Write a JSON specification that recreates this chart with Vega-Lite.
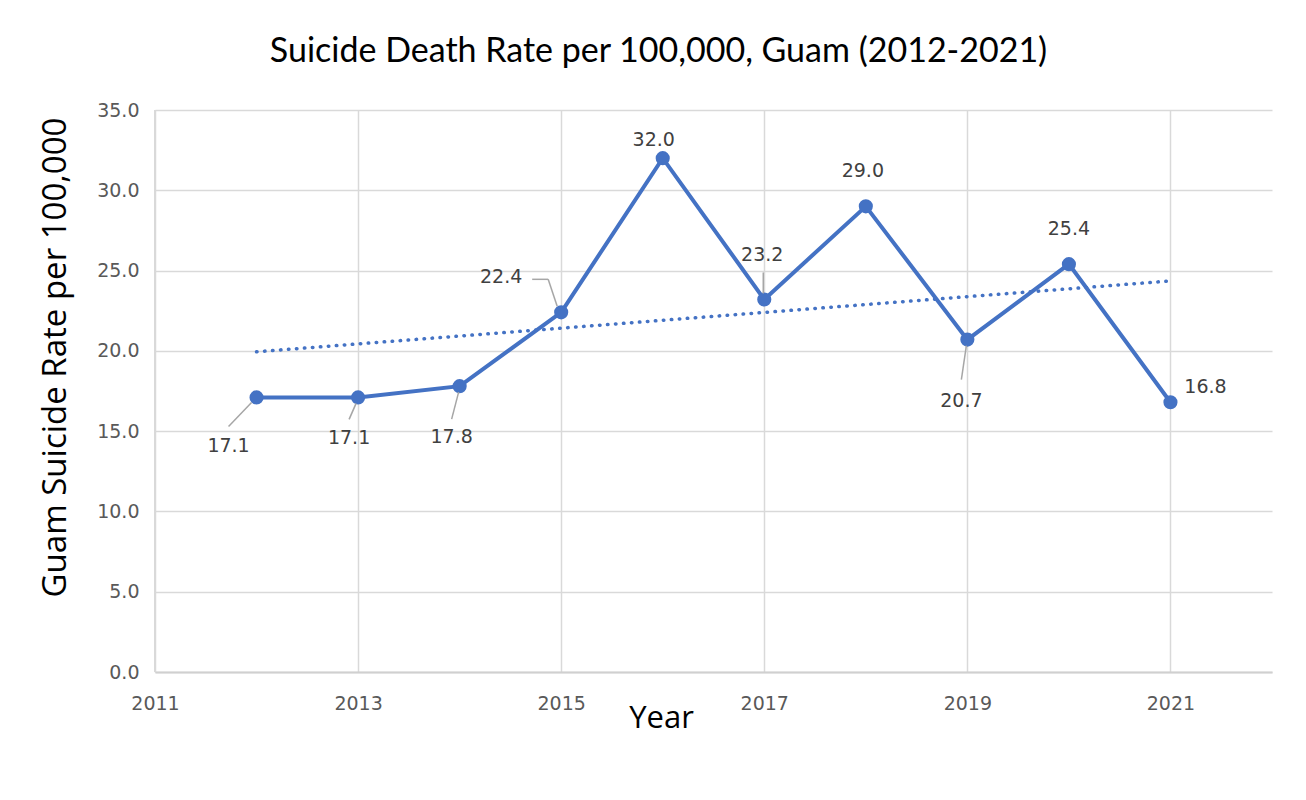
{
  "$schema": "https://vega.github.io/schema/vega-lite/v6.json",
  "autosize": {"type": "none"},
  "width": 1117,
  "height": 562,
  "padding": {"left": 155, "top": 110, "right": 34, "bottom": 128},
  "background": "white",
  "config": {
    "view": {"stroke": null},
    "font": "DejaVu Sans",
    "axis": {"labelFont": "DejaVu Sans", "titleFont": "Open Sans", "labelColor": "#595959", "labelFontSize": 19, "gridColor": "#d9d9d9", "gridWidth": 1.5, "ticks": false, "titleFontWeight": "normal", "titleColor": "#000000", "labelFlush": false}
  },
  "title": {"text": "Suicide Death Rate per 100,000, Guam (2012-2021)", "font": "Lato", "fontSize": 34, "fontWeight": "normal", "color": "#000000", "anchor": "middle", "dx": -55, "baseline": "alphabetic", "offset": 5},
  "data": {"values": [
    {"year": 2012, "rate": 17.1},
    {"year": 2013, "rate": 17.1},
    {"year": 2014, "rate": 17.8},
    {"year": 2015, "rate": 22.4},
    {"year": 2016, "rate": 32.0},
    {"year": 2017, "rate": 23.2},
    {"year": 2018, "rate": 29.0},
    {"year": 2019, "rate": 20.7},
    {"year": 2020, "rate": 25.4},
    {"year": 2021, "rate": 16.8}
  ]},
  "encoding": {
    "x": {"field": "year", "type": "quantitative", "scale": {"domain": [2011, 2022], "nice": false, "zero": false},
      "axis": {"values": [2011, 2013, 2015, 2017, 2019, 2021], "format": "d", "title": "Year", "titleFontSize": 31, "labelPadding": 22, "domainColor": "#d0d0d0", "domainWidth": 2, "titleX": 506, "titleY": 46, "titleAlign": "center", "titleBaseline": "middle"}},
    "y": {"field": "rate", "type": "quantitative", "scale": {"domain": [0, 35], "nice": false},
      "axis": {"values": [0, 5, 10, 15, 20, 25, 30, 35], "format": ".1f", "title": "Guam Suicide Rate per 100,000", "titleFontSize": 33, "labelPadding": 16, "domain": false, "titleX": -100, "titleY": 247, "titleAlign": "center", "titleBaseline": "middle", "titleAngle": -90}}
  },
  "layer": [
    {"mark": {"type": "rule", "color": "#d9d9d9", "strokeWidth": 1.5}, "encoding": {"x": {"datum": 2011, "type": "quantitative"}, "y": null}},
    {"mark": {"type": "line", "color": "#4472C4", "strokeWidth": 4}},
    {"transform": [{"regression": "rate", "on": "year"}],
     "mark": {"type": "line", "color": "#4472C4", "strokeWidth": 3.5, "strokeDash": [0.5, 7.5], "strokeCap": "round"}},
    {"mark": {"type": "point", "filled": true, "opacity": 1, "color": "#4472C4", "size": 200}},
    {"transform": [{"filter": "datum.year == 2012"}], "mark": {"type": "rule", "color": "#a6a6a6", "strokeWidth": 1.5, "xOffset": -5, "yOffset": 5, "x2Offset": -28, "y2Offset": 29}, "encoding": {"x2": {"field": "year"}, "y2": {"field": "rate"}}},
    {"transform": [{"filter": "datum.year == 2013"}], "mark": {"type": "rule", "color": "#a6a6a6", "strokeWidth": 1.5, "xOffset": -2, "yOffset": 6, "x2Offset": -9, "y2Offset": 22}, "encoding": {"x2": {"field": "year"}, "y2": {"field": "rate"}}},
    {"transform": [{"filter": "datum.year == 2014"}], "mark": {"type": "rule", "color": "#a6a6a6", "strokeWidth": 1.5, "xOffset": -1, "yOffset": 6, "x2Offset": -8, "y2Offset": 33}, "encoding": {"x2": {"field": "year"}, "y2": {"field": "rate"}}},
    {"transform": [{"filter": "datum.year == 2015"}], "mark": {"type": "rule", "color": "#a6a6a6", "strokeWidth": 1.5, "xOffset": -4, "yOffset": -6, "x2Offset": -13, "y2Offset": -33}, "encoding": {"x2": {"field": "year"}, "y2": {"field": "rate"}}},
    {"transform": [{"filter": "datum.year == 2015"}], "mark": {"type": "rule", "color": "#a6a6a6", "strokeWidth": 1.5, "xOffset": -13, "yOffset": -33, "x2Offset": -29, "y2Offset": -33}, "encoding": {"x2": {"field": "year"}, "y2": {"field": "rate"}}},
    {"transform": [{"filter": "datum.year == 2017"}], "mark": {"type": "rule", "color": "#a6a6a6", "strokeWidth": 1.5, "xOffset": -1, "yOffset": -27, "x2Offset": -1, "y2Offset": -6}, "encoding": {"x2": {"field": "year"}, "y2": {"field": "rate"}}},
    {"transform": [{"filter": "datum.year == 2019"}], "mark": {"type": "rule", "color": "#a6a6a6", "strokeWidth": 1.5, "xOffset": -1, "yOffset": 6, "x2Offset": -6, "y2Offset": 40}, "encoding": {"x2": {"field": "year"}, "y2": {"field": "rate"}}},
    {"transform": [{"filter": "datum.year == 2012"}], "mark": {"type": "text", "fontSize": 19, "color": "#404040", "dx": -28, "dy": 49, "baseline": "middle"}, "encoding": {"text": {"field": "rate", "format": ".1f"}}},
    {"transform": [{"filter": "datum.year == 2013"}], "mark": {"type": "text", "fontSize": 19, "color": "#404040", "dx": -9, "dy": 41, "baseline": "middle"}, "encoding": {"text": {"field": "rate", "format": ".1f"}}},
    {"transform": [{"filter": "datum.year == 2014"}], "mark": {"type": "text", "fontSize": 19, "color": "#404040", "dx": -8, "dy": 51, "baseline": "middle"}, "encoding": {"text": {"field": "rate", "format": ".1f"}}},
    {"transform": [{"filter": "datum.year == 2015"}], "mark": {"type": "text", "fontSize": 19, "color": "#404040", "dx": -60, "dy": -35, "baseline": "middle"}, "encoding": {"text": {"field": "rate", "format": ".1f"}}},
    {"transform": [{"filter": "datum.year == 2016"}], "mark": {"type": "text", "fontSize": 19, "color": "#404040", "dx": -9, "dy": -18, "baseline": "middle"}, "encoding": {"text": {"field": "rate", "format": ".1f"}}},
    {"transform": [{"filter": "datum.year == 2017"}], "mark": {"type": "text", "fontSize": 19, "color": "#404040", "dx": -2, "dy": -44, "baseline": "middle"}, "encoding": {"text": {"field": "rate", "format": ".1f"}}},
    {"transform": [{"filter": "datum.year == 2018"}], "mark": {"type": "text", "fontSize": 19, "color": "#404040", "dx": -3, "dy": -35, "baseline": "middle"}, "encoding": {"text": {"field": "rate", "format": ".1f"}}},
    {"transform": [{"filter": "datum.year == 2019"}], "mark": {"type": "text", "fontSize": 19, "color": "#404040", "dx": -6, "dy": 61, "baseline": "middle"}, "encoding": {"text": {"field": "rate", "format": ".1f"}}},
    {"transform": [{"filter": "datum.year == 2020"}], "mark": {"type": "text", "fontSize": 19, "color": "#404040", "dx": 0, "dy": -35, "baseline": "middle"}, "encoding": {"text": {"field": "rate", "format": ".1f"}}},
    {"transform": [{"filter": "datum.year == 2021"}], "mark": {"type": "text", "fontSize": 19, "color": "#404040", "dx": 35, "dy": -15, "baseline": "middle"}, "encoding": {"text": {"field": "rate", "format": ".1f"}}}
  ]
}
